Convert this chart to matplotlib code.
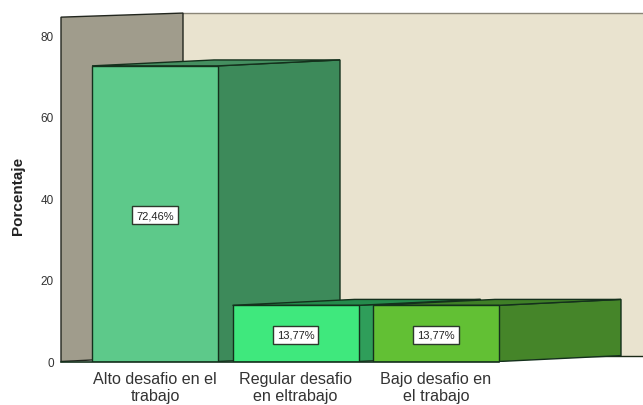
import matplotlib
matplotlib.use("Agg")
import matplotlib.pyplot as plt
from matplotlib.patches import Polygon

cats = ["Alto desafio en el\ntrabajo", "Regular desafio\nen eltrabajo", "Bajo desafio en\nel trabajo"]
vals = [72.46, 13.77, 13.77]
labels = ["72,46%", "13,77%", "13,77%"]
yticks = [0, 20, 40, 60, 80]
front = ["#5dc98a", "#3fe87d", "#62c034"]
side = ["#3d8a5a", "#2f9e5a", "#458529"]
top = ["#458f60", "#258a4c", "#3f7f27"]

plt.rcParams["font.family"] = ["Liberation Sans", "DejaVu Sans"]

W = 643
H = 406
x0 = 61
y0 = 362.5
ytop = 13
ppu = 4.08
step = 140.5
c0 = 155

fig = plt.figure(figsize=(W / 100, H / 100), dpi=100)
ax = fig.add_axes([x0 / W, (H - y0) / H, (W - x0) / W, (y0 - ytop) / H])
ax.set_xlim((x0 - c0) / step, (W - c0) / step)
ax.set_ylim(0, (y0 - ytop) / ppu)

width = 126 / step
dx = 122 / step
dy = 1.45
left = ax.get_xlim()[0]
right = ax.get_xlim()[1]
wall_front = 84.4
wall_back = 85.4

# back wall and left wall
ax.add_patch(Polygon([(left + dx, dy), (right, dy), (right, wall_back), (left + dx, wall_back)],
                     fc="#e9e3cf", ec="none", zorder=1))
ax.plot([left + dx, right], [wall_back, wall_back], color="#8a8678", lw=1, zorder=1.5, clip_on=False)
ax.plot([left + dx, right], [dy, dy], color="#1c2a18", lw=1, zorder=1.5)
ax.add_patch(Polygon([(left, 0), (left + dx, dy), (left + dx, wall_back), (left, wall_front)],
                     fc="#a09c8c", ec="#22261e", lw=1, zorder=2, clip_on=False))

for i in range(len(vals)):
    v = vals[i]
    z = 3 + i
    xl = i - width / 2
    xr = i + width / 2
    ax.add_patch(Polygon([(xr, 0), (xr + dx, dy), (xr + dx, v + dy), (xr, v)],
                         fc=side[i], ec="#14301c", lw=1, zorder=z))
    ax.add_patch(Polygon([(xl, v), (xl + dx, v + dy), (xr + dx, v + dy), (xr, v)],
                         fc=top[i], ec="#14301c", lw=1, zorder=z))
    ax.bar(i, v, width=width, color=front[i], edgecolor="#14301c", lw=1, zorder=z)
    ax.annotate(labels[i], (i, v / 2), xytext=(0, -1), textcoords="offset points",
                ha="center", va="center", fontsize=8, color="#222222", zorder=10,
                bbox=dict(boxstyle="square,pad=0.35", fc="white", ec="#2c3a2c", lw=1))

ax.plot([left, 2 + width / 2], [0, 0], color="#14301c", lw=1.2, zorder=8, clip_on=False)

for s in ax.spines.values():
    s.set_visible(False)
ax.patch.set_visible(False)
ax.set_yticks(yticks)
ax.set_xticks(range(len(cats)))
ax.set_xticklabels(cats, fontsize=11.6, color="#333333", linespacing=1.15)
ax.tick_params(axis="x", length=0, pad=7)
ax.tick_params(axis="y", length=0, pad=5, labelsize=8.5, labelcolor="#333333")
fig.text(18.5 / W, 1 - 196 / H, "Porcentaje", rotation=90, ha="center", va="center",
         fontsize=11, fontweight="bold", color="#222222")

fig.savefig("out.png", dpi=100)
